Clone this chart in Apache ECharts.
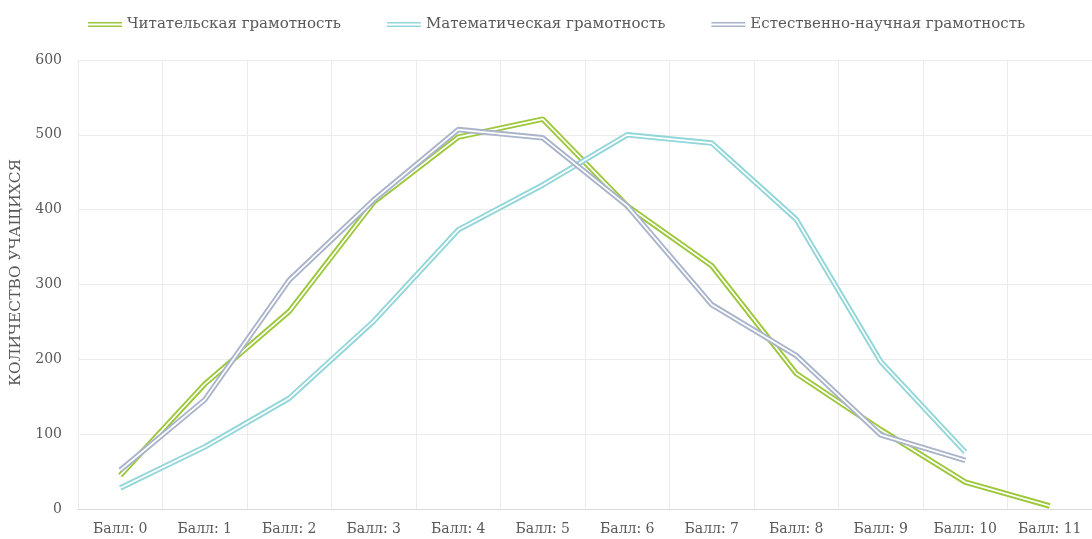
<!DOCTYPE html>
<html>
<head>
<meta charset="utf-8">
<script src="https://cdn.jsdelivr.net/npm/echarts@6/dist/echarts.min.js"></script>
<style>
    html, body { margin: 0; padding: 0; background: #fff; }
    #main { width: 1092px; height: 539px; }
</style>
</head>
<body>
<div id="main"></div>
<script>
    // данные
    var categories = ['Балл: 0', 'Балл: 1', 'Балл: 2', 'Балл: 3', 'Балл: 4', 'Балл: 5',
        'Балл: 6', 'Балл: 7', 'Балл: 8', 'Балл: 9', 'Балл: 10', 'Балл: 11'];
    var seriesNames = ['Читательская грамотность', 'Математическая грамотность', 'Естественно-научная грамотность'];
    var reading = [45, 167, 264, 410, 497, 521, 405, 325, 181, 106, 36, 4];
    var math = [28, 83, 148, 251, 373, 433, 500, 489, 387, 197, 76];
    var science = [52, 146, 306, 413, 507, 496, 405, 273, 205, 99, 65];
    var yTicks = [0, 100, 200, 300, 400, 500, 600];

    var colors = ['#9dc83c', '#92d6d9', '#a9b4cb'];
    var font = 'DejaVu Serif';

    var el = document.getElementById('main');
    var myChart = echarts.init(el);

    // двойная линия: толстая цветная + тонкая белая поверх
    function doubleLine(name, data, color) {
        return [
            {
                name: name,
                type: 'line',
                data: data,
                symbol: 'none',
                color: color,
                lineStyle: { color: color, width: 5.5 },
                z: 2
            },
            {
                name: name + '_inner',
                type: 'line',
                data: data,
                symbol: 'none',
                silent: true,
                lineStyle: { color: '#ffffff', width: 1.7 },
                z: 2
            }
        ];
    }

    var series = [];
    series = series.concat(doubleLine(seriesNames[0], reading, colors[0]));
    series = series.concat(doubleLine(seriesNames[1], math, colors[1]));
    series = series.concat(doubleLine(seriesNames[2], science, colors[2]));

    var option = {
        animation: false,
        textStyle: { fontFamily: font },
        legend: {
            data: seriesNames,
            top: 12,
            left: 83,
            itemGap: 46,
            itemWidth: 34,
            itemHeight: 5,
            icon: 'path://M0,0H34V1.6H0Z M0,3.4H34V5H0Z',
            textStyle: { color: '#595959', fontSize: 15, fontFamily: font }
        },
        grid: { left: 78, right: -4, top: 60, bottom: 30 },
        xAxis: {
            type: 'category',
            data: categories,
            boundaryGap: true,
            axisLine: { show: true, lineStyle: { color: '#d9d9d9', width: 1 } },
            axisTick: { show: false },
            axisLabel: { color: '#595959', fontSize: 14, margin: 13, fontFamily: font },
            splitLine: { show: true, lineStyle: { color: '#ececec', width: 1 } }
        },
        yAxis: {
            type: 'value',
            min: 0,
            max: 600,
            interval: 100,
            name: 'КОЛИЧЕСТВО УЧАЩИХСЯ',
            nameLocation: 'middle',
            nameGap: 51,
            nameTextStyle: { color: '#595959', fontSize: 15.5, fontFamily: font, padding: [0, 0, 0, 24] },
            axisLine: { show: false },
            axisTick: { show: false },
            axisLabel: {
                color: '#595959', fontSize: 14, margin: 16, fontFamily: font,
                formatter: function (v) { return yTicks.indexOf(v) >= 0 ? String(v) : ''; }
            },
            splitLine: { show: true, lineStyle: { color: '#ececec', width: 1 } }
        },
        series: series
    };
    myChart.setOption(option);
</script>
</body>
</html>
